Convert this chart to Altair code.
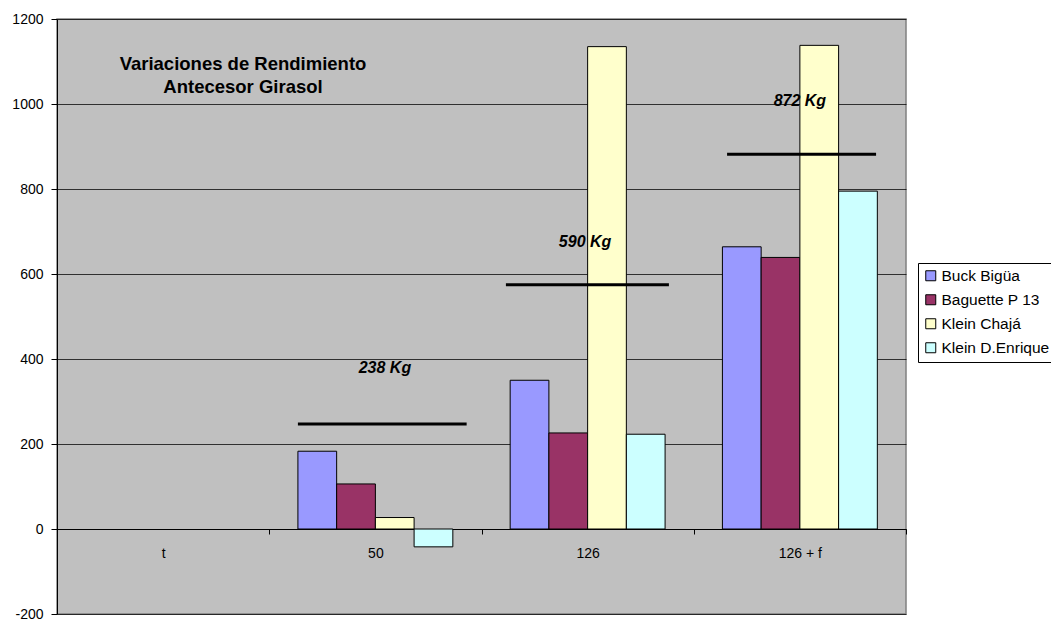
import altair as alt
import pandas as pd

categories = ["t", "50", "126", "126 + f"]
series = ["Buck Bigüa", "Baguette P 13", "Klein Chajá", "Klein D.Enrique"]
colors = ["#9999FF", "#993366", "#FFFFCC", "#CCFFFF"]

vals_50 = [183, 106, 27, -42]
vals_126 = [350, 226, 1135, 223]
vals_126f = [664, 639, 1138, 795]

avg_cats = ["50", "126", "126 + f"]
avg_values = [247, 575, 882]
avg_from = [1.135, 2.115, 3.157]   # in category units
avg_to = [1.93, 2.883, 3.859]
avg_labels = ["238 Kg", "590 Kg", "872 Kg"]
label_x = [1.545, 2.488, 3.50]
label_y = [379, 675, 1007]

title_lines = "Variaciones de Rendimiento\nAntecesor Girasol"

rows = []
for cat, vals in zip(["50", "126", "126 + f"], [vals_50, vals_126, vals_126f]):
    for s, v in zip(series, vals):
        rows.append({"cat": cat, "serie": s, "valor": v})
bars_df = pd.DataFrame(rows)

avg_df = pd.DataFrame({"cat": avg_cats, "avg": avg_values, "x0": avg_from, "x1": avg_to,
                       "label": avg_labels, "lx": label_x, "ly": label_y})
title_df = pd.DataFrame({"t": [title_lines]})

FONT = "Liberation Sans"

bars = alt.Chart(bars_df).mark_bar(stroke="black", strokeWidth=1).encode(
    x=alt.X("cat:N", sort=categories,
            scale=alt.Scale(domain=categories, paddingInner=0, paddingOuter=0),
            axis=alt.Axis(title=None, labelAngle=0, offset=-85, domainColor="black",
                          tickColor="black", tickSize=5, tickBand="extent",
                          labelPadding=12, labelFont=FONT, labelFontSize=14,
                          labelColor="black", grid=False)),
    xOffset=alt.XOffset("serie:N", sort=series,
                        scale=alt.Scale(domain=series, paddingInner=0, paddingOuter=0.74)),
    y=alt.Y("valor:Q", scale=alt.Scale(domain=[-200, 1200], nice=False),
            axis=alt.Axis(title=None, values=list(range(-200, 1201, 200)),
                          labelExpr="'' + datum.value",
                          grid=True, gridColor="black", gridWidth=1, gridOpacity=0.75,
                          domainColor="black", tickColor="black", tickSize=6,
                          labelPadding=8, labelFont=FONT, labelFontSize=14,
                          labelColor="black")),
    color=alt.Color("serie:N", sort=series,
                    scale=alt.Scale(domain=series, range=colors),
                    legend=alt.Legend(title=None, orient="none", legendX=861, legendY=244,
                                      strokeColor="black", padding=5, fillColor="white",
                                      symbolType="square", symbolSize=100,
                                      symbolStrokeColor="black", symbolStrokeWidth=1,
                                      symbolOpacity=1, labelFont=FONT, labelFontSize=15.5,
                                      labelColor="black", rowPadding=7, labelOffset=3,
                                      labelLimit=300, cornerRadius=0)),
)

xq = alt.X("x0:Q", scale=alt.Scale(domain=[0, 4], nice=False, zero=False), axis=None)

rules = alt.Chart(avg_df).mark_rule(color="black", strokeWidth=3).encode(
    x=xq, x2="x1:Q", y="avg:Q"
)

labels = alt.Chart(avg_df).mark_text(font=FONT, fontSize=16, fontWeight="bold",
                                      fontStyle="italic", color="black").encode(
    x=alt.X("lx:Q", scale=alt.Scale(domain=[0, 4], nice=False, zero=False), axis=None),
    y="ly:Q", text="label:N"
)

title = alt.Chart(title_df).mark_text(font=FONT, fontSize=18.5, fontWeight="bold",
                                      color="black", lineBreak="\n", lineHeight=23,
                                      align="center", baseline="middle").encode(
    x=alt.value(186), y=alt.value(44.5), text="t:N"
)

over = alt.layer(rules, labels, title)

chart = alt.layer(bars, over).resolve_scale(x="independent").properties(
    width=849, height=595,
    autosize=alt.AutoSizeParams(type="none"),
    padding={"left": 57, "top": 19, "right": 145, "bottom": 7},
    background="white",
).configure_view(fill="#C0C0C0", stroke="#808080", strokeWidth=1.5)

chart.save("out.html", embed_options={"renderer": "svg", "actions": False})
